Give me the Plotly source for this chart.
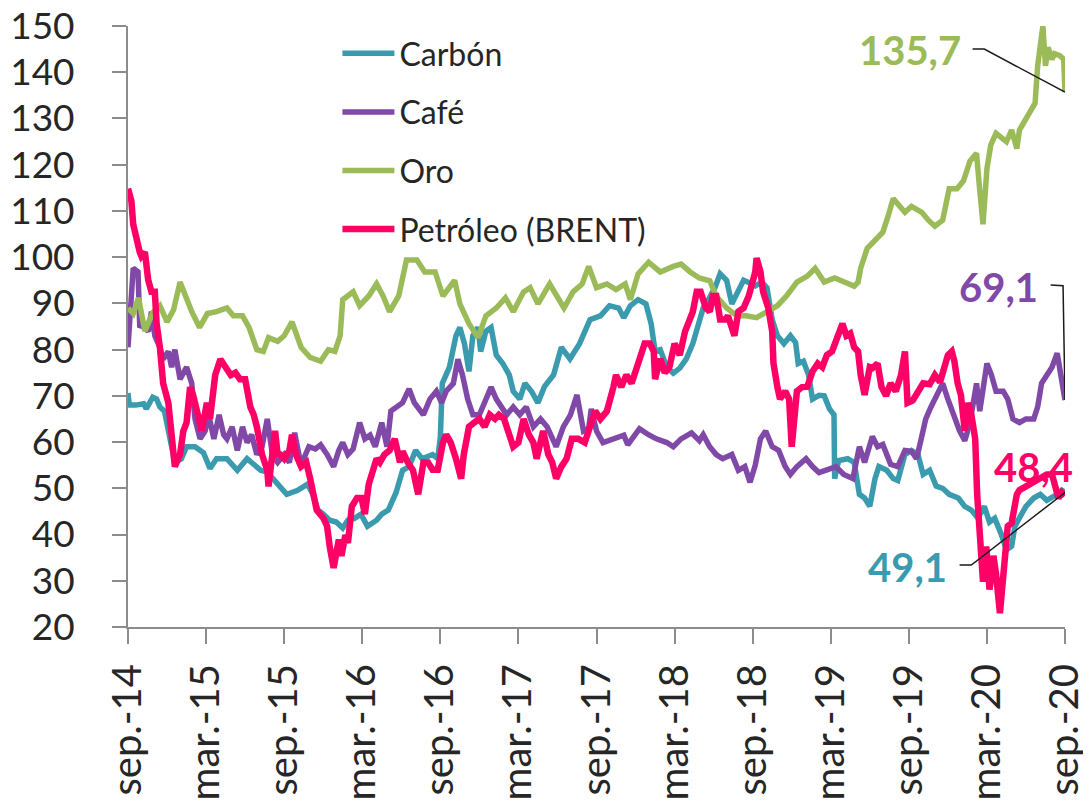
import plotly.graph_objects as go

# x = months since Sep-2014, value = index
TICK_LABELS = ["sep.-14", "mar.-15", "sep.-15", "mar.-16", "sep.-16", "mar.-17", "sep.-17",
               "mar.-18", "sep.-18", "mar.-19", "sep.-19", "mar.-20", "sep.-20"]

CARBON = [
    (0, 70.6), (0.1, 68), (0.6, 68), (1.2, 68.3), (1.4, 67.2), (1.9, 69.7), (2.2, 69.3), (2.45, 67.6),
    (2.8, 66.7), (3.1, 62.4), (3.35, 59), (3.6, 55.6), (4.1, 56.4), (4.5, 59), (5.15, 59), (5.8, 57.7),
    (6.3, 54.3), (6.8, 56.4), (7.6, 56.4), (8.4, 53.9), (9.15, 56.4), (9.7, 55), (10.2, 53.9), (10.7, 53.5),
    (11.5, 50.9), (12.2, 48.7), (13.0, 49.5), (13.8, 50.9), (14.2, 48.7), (14.6, 45.3), (15.0, 44.4),
    (15.5, 43.1), (16.0, 42.7), (16.5, 41.4), (16.9, 43.1), (17.4, 43.5), (17.9, 44.4), (18.4, 41.8),
    (19.1, 43.1), (19.5, 44.4), (20.0, 45.3), (20.6, 49.1), (21.1, 53.9), (21.6, 54.7), (22.1, 58.2),
    (22.6, 56.4), (23.4, 57.3), (23.8, 56.4), (24.0, 61), (24.15, 72.7), (24.7, 76.2), (25.2, 83),
    (25.5, 84.8), (25.85, 81.3), (26.2, 75.3), (26.5, 83), (26.9, 84.8), (27.1, 79.6), (27.5, 84),
    (27.9, 84.8), (28.3, 78.8), (28.8, 77), (29.3, 74.5), (29.6, 71), (30.1, 69.3), (30.5, 72.7),
    (31.0, 71), (31.5, 68.5), (32.0, 72), (32.7, 74.5), (33.3, 80.5), (33.96, 78), (34.7, 81.3),
    (35.5, 86.5), (36.3, 87.3), (37.0, 89.5), (37.7, 89), (38.1, 86.9), (38.6, 89.5), (39.2, 90.8),
    (39.8, 89.9), (40.2, 85.6), (40.5, 79.6), (40.9, 80), (41.4, 76.2), (41.9, 74.9), (42.4, 76),
    (42.9, 78), (43.4, 81.3), (43.9, 86.5), (44.2, 89), (44.6, 90.8), (45.1, 93.4), (45.5, 96.4),
    (46.0, 95), (46.4, 89.9), (46.9, 92.5), (47.3, 95), (47.7, 94.5), (48.2, 93.8), (48.7, 94.6),
    (49.1, 93.4), (49.5, 86.5), (49.9, 83), (50.4, 81.3), (50.9, 83), (51.3, 81.5), (51.5, 77),
    (51.9, 77.5), (52.3, 74.5), (52.6, 69.3), (53.1, 70.1), (53.5, 70), (53.9, 67.2), (54.25, 65.9),
    (54.3, 52.1), (54.6, 56), (55.3, 56.4), (55.8, 55.6), (56.2, 48.7), (56.6, 47.9), (57.0, 46.1),
    (57.4, 52.1), (57.7, 54.7), (58.3, 53.9), (58.8, 52.1), (59.15, 51.7), (59.7, 57.3), (60.2, 58.2),
    (60.7, 57.3), (61.1, 53), (61.6, 53.9), (62.1, 50.5), (62.6, 50), (63.1, 48.7), (63.8, 47.9),
    (64.3, 46.1), (64.8, 45.3), (65.3, 43.6), (65.8, 46.1), (66.2, 42.7), (66.6, 43.5), (67.1, 40.1),
    (67.5, 36.7), (67.9, 37.5), (68.15, 41.8), (68.5, 43.6), (69.0, 46.1), (69.6, 47.9), (70.1, 48.7),
    (70.6, 47.4), (71.0, 48), (71.4, 48.7), (71.75, 49.6), (72.0, 49.1),
]

CAFE = [
    (0, 80.5), (0.26, 91.6), (0.4, 97.6), (0.77, 96.8), (0.9, 85.2), (1.3, 84.8), (1.55, 83.9), (1.8, 88.2),
    (2.06, 83), (2.45, 80.5), (2.7, 77.9), (3.1, 79.6), (3.35, 76.2), (3.6, 80), (4.0, 73.6), (4.5, 76.2),
    (4.9, 72.7), (5.15, 65), (5.54, 60.7), (5.93, 62.4), (6.2, 65.9), (6.6, 60.7), (7.0, 65.9),
    (7.35, 61.6), (7.6, 60.7), (8.0, 63.3), (8.4, 58.2), (8.8, 63.3), (9.15, 59.9), (9.5, 61.6),
    (9.9, 57.3), (10.3, 59), (10.7, 65), (11.1, 57.3), (11.5, 55.6), (12.0, 57.3), (12.4, 55.6),
    (12.8, 62), (13.2, 56.4), (13.5, 56.4), (13.9, 59), (14.4, 58.5), (14.8, 59.4), (15.3, 57.3),
    (15.8, 54.7), (16.2, 58.2), (16.5, 59.9), (16.9, 57.3), (17.3, 58.5), (17.8, 64.2), (18.2, 60.7),
    (18.6, 61.5), (19.0, 59), (19.5, 64.2), (19.9, 59), (20.2, 66.7), (20.6, 67.6), (21.1, 68.5),
    (21.6, 71.5), (22.0, 68.5), (22.7, 65.9), (23.2, 69.3), (23.7, 71), (24.1, 68.5), (24.45, 71),
    (25.0, 72.7), (25.35, 77.9), (25.7, 74.5), (26.1, 69.3), (26.5, 65.9), (27.0, 65.9), (27.5, 69.3),
    (27.9, 71.9), (28.3, 69.3), (28.7, 67.6), (29.1, 65.9), (29.6, 67.6), (30.1, 65.9), (30.6, 67.6),
    (31.15, 63.3), (31.7, 65), (32.2, 63.3), (32.9, 59), (33.45, 63.3), (34.0, 65.9), (34.5, 70.2),
    (35.0, 62.4), (35.4, 63), (35.6, 67.2), (36.0, 62.4), (36.5, 59.9), (37.3, 60.7), (38.1, 61.5),
    (38.4, 59.4), (39.3, 62.9), (40.0, 61.6), (40.6, 60.7), (41.4, 59.9), (41.9, 59), (42.5, 60.7),
    (43.3, 62), (43.9, 60.3), (44.2, 61.6), (44.7, 59), (45.2, 57.3), (45.7, 56.4), (46.4, 57.3),
    (46.9, 53.9), (47.4, 54.7), (47.8, 51.3), (48.2, 55), (48.6, 60.7), (49.0, 62.4), (49.5, 59),
    (50.0, 58.2), (50.5, 54.7), (50.9, 53), (51.4, 54.7), (52.1, 56.4), (52.6, 54.7), (53.1, 53.4),
    (53.7, 54), (54.4, 54.7), (55.0, 53), (55.7, 52.1), (56.2, 59), (56.6, 55.6), (57.2, 61.2),
    (57.6, 59), (58.0, 59.5), (58.4, 56.4), (58.6, 55.2), (59.15, 54.7), (59.7, 58.2), (60.2, 58),
    (60.6, 56.4), (60.95, 60.7), (61.3, 65), (61.7, 67.6), (62.2, 70.2), (62.6, 72.7), (63.0, 69.3),
    (63.4, 65.9), (63.9, 62.4), (64.3, 60.3), (64.7, 64.2), (65.2, 72.7), (65.45, 66.7), (66.0, 77),
    (66.35, 74.5), (66.7, 71), (67.25, 71), (67.6, 69.3), (68.0, 65), (68.5, 64.2), (69.0, 65),
    (69.6, 65), (69.9, 67.6), (70.2, 72.7), (70.6, 74.5), (71.0, 76.2), (71.4, 79.2), (71.6, 76),
    (72.0, 69.1),
]

ORO = [
    (0, 89), (0.4, 87.8), (0.8, 91.2), (1.3, 84), (1.9, 88), (2.45, 89.5), (3.0, 86), (3.5, 88.6),
    (4.0, 94.6), (4.5, 90.8), (4.9, 88.2), (5.5, 84.8), (6.1, 87.8), (6.8, 88.2), (7.6, 89), (8.1, 87.3),
    (8.8, 87.3), (9.3, 84.8), (9.9, 80), (10.4, 79.6), (10.8, 82.6), (11.5, 81.8), (12.0, 83), (12.6, 86),
    (13.3, 80.5), (14.0, 78.3), (14.8, 77.5), (15.4, 80), (15.9, 79.6), (16.3, 83), (16.5, 90.8),
    (17.3, 92.5), (17.8, 89.5), (18.5, 91.6), (19.1, 94.2), (19.6, 91.6), (20.1, 88.2), (20.8, 91.6),
    (21.4, 99.4), (22.2, 99.4), (22.8, 96.8), (23.6, 96.8), (24.2, 91.6), (25.1, 95), (25.5, 89.9),
    (26.2, 85.6), (26.9, 82.6), (27.5, 87.3), (28.3, 89), (29.0, 91.2), (29.6, 88.2), (30.4, 92.5),
    (30.9, 93.4), (31.5, 89.9), (32.4, 94.2), (33.5, 89), (34.2, 92.5), (34.9, 94.2), (35.4, 98),
    (36.0, 93.4), (36.8, 94.2), (37.5, 93), (38.2, 94.2), (38.6, 90.8), (39.2, 96.4), (40.0, 98.9),
    (40.9, 96.8), (41.9, 98), (42.5, 98.5), (43.2, 96.8), (43.9, 95.5), (44.7, 94.9), (45.2, 91.6),
    (46.0, 89), (46.8, 87.3), (47.5, 87.3), (48.3, 86.9), (49.1, 88.2), (49.9, 89.5), (50.6, 91.6),
    (51.4, 94.6), (52.2, 95.9), (52.8, 97.6), (53.5, 94.6), (54.3, 95.5), (55.0, 94.7), (55.8, 93.7),
    (56.1, 94.6), (56.3, 97.6), (56.8, 101.9), (57.4, 103.6), (58.0, 105.4), (58.4, 108.8),
    (58.8, 112.7), (59.3, 111), (59.7, 109.7), (60.2, 111), (61.0, 109.7), (61.5, 108), (62.0, 106.7),
    (62.6, 108), (63.1, 114.8), (63.7, 114.8), (64.2, 116.5), (64.7, 120.8), (65.2, 122.5), (65.4, 116),
    (65.7, 107.1), (66.0, 119.1), (66.3, 124.3), (66.7, 126.8), (67.1, 126), (67.5, 125), (67.9, 127.5),
    (68.3, 123.5), (68.5, 127.5), (68.9, 129.4), (69.3, 131.1), (69.7, 133.3), (69.9, 141.4),
    (70.2, 147.4), (70.3, 150), (70.5, 141.4), (70.7, 145.4), (71.0, 142.8), (71.2, 144), (71.6, 143.6),
    (71.9, 142.8), (72.0, 135.7),
]

PETROLEO = [
    (0, 114.8), (0.26, 112.2), (0.4, 107.1), (0.64, 103.6), (0.9, 101.1), (1.03, 100.2), (1.3, 101.1),
    (1.55, 95.1), (1.8, 92.5), (2.06, 92.5), (2.2, 85.6), (2.45, 80.5), (2.7, 72.7), (3.1, 68.5),
    (3.35, 60.7), (3.6, 54.7), (4.0, 57.3), (4.25, 62.4), (4.5, 64.2), (4.77, 71.9), (5.0, 70.2),
    (5.4, 65.9), (5.67, 62.4), (6.06, 68.5), (6.3, 65), (6.7, 74.5), (7.1, 77.9), (7.5, 76.2),
    (7.9, 74.5), (8.25, 75), (8.6, 73.6), (9.0, 73.6), (9.4, 67.6), (9.66, 65.9), (9.9, 63.3),
    (10.3, 57.3), (10.7, 53.9), (10.8, 50.4), (11.1, 59), (11.3, 62.4), (11.5, 57.3), (11.7, 57.3),
    (12.0, 56.4), (12.4, 58.2), (12.6, 61.6), (12.9, 57.3), (13.3, 54.7), (13.7, 55.6), (14.0, 52.1),
    (14.25, 48.7), (14.5, 45.3), (15.0, 43.6), (15.3, 41.8), (15.5, 37.4), (15.8, 32.8), (16.2, 38.9),
    (16.4, 35.4), (16.7, 39.9), (16.9, 38.2), (17.2, 46.1), (17.6, 47.9), (17.95, 47.9), (18.2, 44.4),
    (18.5, 50.9), (18.8, 53.9), (19.1, 56.4), (19.35, 55.6), (19.7, 57.3), (20.1, 58.2), (20.5, 60.7),
    (20.9, 55.6), (21.1, 58), (21.5, 55.6), (21.9, 53.9), (22.3, 48.7), (22.7, 55.6), (23.05, 55.6),
    (23.4, 54), (23.8, 54), (24.2, 59.9), (24.45, 61.6), (24.8, 59.9), (25.2, 56.4), (25.6, 52.1),
    (25.8, 57.3), (26.2, 63.3), (26.6, 64.2), (27.0, 65), (27.4, 63.3), (27.8, 65.9), (28.2, 65),
    (28.5, 65.9), (28.9, 65), (29.2, 62.4), (29.6, 59), (30.0, 59.9), (30.4, 65), (30.8, 61.6),
    (31.15, 59.9), (31.4, 56.4), (31.9, 62.4), (32.3, 57.3), (32.6, 55.6), (32.9, 52.1), (33.3, 54.7),
    (33.7, 56.4), (34.1, 60.7), (34.6, 60.7), (35.1, 59.9), (35.5, 63.3), (35.9, 66.7), (36.3, 65),
    (36.8, 66.7), (37.3, 71.9), (37.5, 74.5), (37.9, 71.9), (38.3, 74.5), (38.7, 72.7), (39.1, 76.2),
    (39.5, 78.8), (39.7, 81.3), (40.1, 81.3), (40.4, 79.6), (40.5, 73.6), (40.9, 78), (41.25, 75),
    (41.6, 76.2), (42.0, 81.3), (42.4, 78.8), (42.8, 83.9), (43.2, 86.5), (43.4, 88.2), (43.7, 92.5),
    (44.0, 92.5), (44.4, 89), (44.7, 88.2), (44.95, 91.6), (45.2, 91.6), (45.5, 86.5), (45.9, 86.5),
    (46.1, 87.3), (46.4, 84.8), (46.6, 83), (46.9, 88.2), (47.3, 89), (47.7, 91.6), (47.9, 93.4),
    (48.2, 96.8), (48.3, 99.8), (48.6, 96.8), (48.8, 92.5), (49.2, 89), (49.5, 83.9), (49.6, 77),
    (49.9, 71.9), (50.1, 69.3), (50.5, 71), (50.8, 69.3), (51.0, 59), (51.3, 65.9), (51.4, 71),
    (51.8, 71.9), (52.2, 72), (52.6, 75.3), (53.0, 77), (53.35, 76.2), (53.7, 78.8), (54.1, 79.6),
    (54.5, 83), (54.9, 85.6), (55.2, 83), (55.5, 83.5), (55.8, 80.5), (56.1, 79.6), (56.3, 74.5),
    (56.6, 70.2), (57.0, 76.2), (57.2, 76), (57.6, 77), (57.9, 71.9), (58.25, 70), (58.6, 72.7),
    (59.0, 71), (59.4, 74.5), (59.7, 79.6), (59.9, 68.5), (60.3, 69), (60.7, 71), (61.1, 72.7),
    (61.6, 72.5), (62.0, 74.5), (62.4, 73), (62.75, 77), (63.0, 78.8), (63.3, 79.6), (63.5, 77.5),
    (63.75, 72.7), (64.0, 70.2), (64.3, 62.4), (64.55, 68.5), (64.8, 66), (65.1, 60.7), (65.25, 48.7),
    (65.45, 40.1), (65.7, 29.8), (65.95, 37.4), (66.2, 28.1), (66.5, 35.4), (66.7, 31.5), (67.0, 23),
    (67.25, 31.5), (67.6, 41.8), (67.9, 42.5), (68.3, 48.7), (68.5, 49.6), (69.0, 50.4), (69.6, 51.3),
    (70.1, 52.1), (70.6, 53), (71.0, 53), (71.2, 51), (71.5, 47.9), (71.75, 49.1), (72.0, 48.4),
]

SERIES = [
    ("Carbón", CARBON, "#3A9AAE", 5.5),
    ("Café", CAFE, "#8049A8", 5.5),
    ("Oro", ORO, "#9BBB59", 5.5),
    ("Petróleo (BRENT)", PETROLEO, "#FF0066", 6.5),
]

FONT = "Lato"
TEXT = "#262626"
AXIS = "#8C8C8C"

fig = go.Figure()
for i, (name, data, color, width) in enumerate(SERIES):
    xs = [p[0] for p in data]
    ys = [p[1] for p in data]
    fig.add_trace(go.Scatter(x=xs, y=ys, mode="lines", name=name, legendgroup=f"g{i}",
                             line=dict(color=color, width=width)))

# end-value labels: (series index, text x, text y, leader elbow points or None)
LABELS = [
    (2, 60.1, 144.8, [(64.9, 145.0), (65.8, 145.0)]),
    (1, 66.9, 93.5, [(70.9, 94.0), (71.85, 93.8)]),
    (3, 69.6, 54.6, None),
    (0, 59.9, 33.0, [(63.9, 33.4), (64.8, 33.4)]),
]
for idx, tx, ty, elbow in LABELS:
    name, data, color, _ = SERIES[idx]
    lx, lv = data[-1]
    fig.add_annotation(x=tx, y=ty, xref="x", yref="y", showarrow=False,
                       text="<b>" + f"{lv:.1f}".replace(".", ",") + "</b>",
                       font=dict(family=FONT, size=40, color=color))
    if elbow:
        path = f"M {elbow[0][0]},{elbow[0][1]} L {elbow[1][0]},{elbow[1][1]} L {lx},{lv}"
        fig.add_shape(type="path", path=path, xref="x", yref="y",
                      line=dict(color="#1a1a1a", width=1.5))

fig.update_xaxes(range=[0, 72], tickvals=list(range(0, 73, 6)), ticktext=TICK_LABELS,
                 tickangle=-90, ticks="outside", ticklen=15, tickwidth=2, tickcolor=AXIS,
                 showline=True, linecolor=AXIS, linewidth=2, showgrid=False, zeroline=False,
                 automargin=False, ticklabeloverflow="allow",
                 tickfont=dict(family=FONT, size=40, color=TEXT), ticklabelstandoff=4)
fig.update_yaxes(range=[20, 150], tickvals=list(range(20, 151, 10)), ticks="outside",
                 ticklen=14, tickwidth=2, tickcolor=AXIS, showline=True, linecolor=AXIS,
                 linewidth=2, showgrid=False, zeroline=False, automargin=False,
                 ticklabeloverflow="allow",
                 tickfont=dict(family=FONT, size=37, color=TEXT), ticklabelstandoff=30)

# the page adds an 8px body margin, so the figure is offset by 8px
fig.update_layout(
    width=1083, height=802, autosize=False,
    margin=dict(l=120, r=26, t=18, b=183),
    paper_bgcolor="white", plot_bgcolor="white",
    showlegend=True,
    legend=dict(x=0.2235, y=1.0, xanchor="left", yanchor="top", bgcolor="rgba(0,0,0,0)",
                font=dict(family=FONT, size=32, color=TEXT), traceorder="grouped",
                tracegroupgap=14, itemwidth=52),
)

fig.write_html("out.html")
